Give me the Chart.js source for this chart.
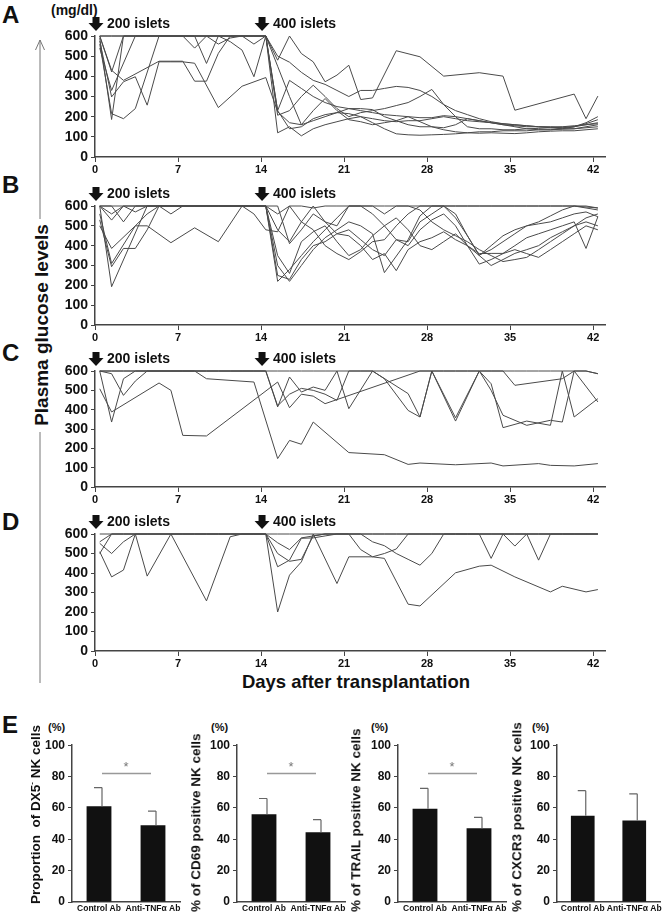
<!DOCTYPE html>
<html>
<head>
<meta charset="utf-8">
<script src="https://cdn.jsdelivr.net/npm/chart.js@4.4.0/dist/chart.umd.min.js"></script>
<style>
body { margin: 0; background: #fff; width: 672px; height: 914px; position: relative; overflow: hidden;
       font-family: "Liberation Sans", Arial, sans-serif; color: #111; }
.box { position: absolute; }
.lbl { position: absolute; font-weight: bold; white-space: nowrap; line-height: 1; }
.rot { position: absolute; white-space: nowrap; line-height: 1; transform-origin: 0 0;
       transform: rotate(-90deg) translate(0, -50%); }
</style>
</head>
<body>

<svg class="box" style="left:0;top:0" width="672" height="914">
  <path d="M40 40 V219 M40 432 V683 M35.5 50 L40 40 L44.5 50" stroke="#777" fill="none" stroke-width="1"/>
</svg>

<div class="lbl" style="left:2px;top:3px;font-size:24px">A</div>
<div class="lbl" style="left:2px;top:173px;font-size:24px">B</div>
<div class="lbl" style="left:2px;top:341px;font-size:24px">C</div>
<div class="lbl" style="left:2px;top:510px;font-size:24px">D</div>
<div class="lbl" style="left:2px;top:713px;font-size:24px">E</div>
<div class="lbl" style="left:51px;top:3px;font-size:14px">(mg/dl)</div>

<div class="lbl" style="left:41px;top:325px;font-size:19px;transform:translate(-50%,-50%) rotate(-90deg)">Plasma glucose levels</div>
<div class="lbl" style="left:356px;top:682px;font-size:18.5px;transform:translate(-50%,-50%)">Days after transplantation</div>

<div class="box" style="left:50px;top:14px;width:560px;height:165px"><canvas id="chartA"></canvas></div>
<div class="box" style="left:50px;top:184px;width:560px;height:163px"><canvas id="chartB"></canvas></div>
<div class="box" style="left:50px;top:349px;width:560px;height:160px"><canvas id="chartC"></canvas></div>
<div class="box" style="left:50px;top:512px;width:560px;height:161px"><canvas id="chartD"></canvas></div>

<div class="box" style="left:42px;top:735px;width:150px;height:179px"><canvas id="chartE1"></canvas></div>
<div class="box" style="left:207px;top:735px;width:150px;height:179px"><canvas id="chartE2"></canvas></div>
<div class="box" style="left:368px;top:735px;width:150px;height:179px"><canvas id="chartE3"></canvas></div>
<div class="box" style="left:527px;top:735px;width:145px;height:179px"><canvas id="chartE4"></canvas></div>

<div class="lbl" style="left:48px;top:722px;font-size:11px">(%)</div>
<div class="lbl" style="left:211px;top:722px;font-size:11px">(%)</div>
<div class="lbl" style="left:371px;top:722px;font-size:11px">(%)</div>
<div class="lbl" style="left:532px;top:722px;font-size:11px">(%)</div>

<div class="rot" style="left:35px;top:904px;font-size:13.5px;font-weight:bold">Proportion&nbsp; of DX5<sup style="font-size:8px">-</sup> NK cells</div>
<div class="rot" style="left:196px;top:912px;font-size:13.5px;font-weight:bold">% of CD69 positive NK cells</div>
<div class="rot" style="left:356px;top:912px;font-size:13.5px;font-weight:bold">% of TRAIL positive NK cells</div>
<div class="rot" style="left:517px;top:912px;font-size:13.5px;font-weight:bold">% of CXCR3 positive NK cells</div>

<script>
// Days after transplantation and tick labels
const DAYS = [0,1,2,3,4,5,6,7,8,9,10,11,12,13,14,15,16,17,18,19,20,21,22,23,24,25,26,27,28,29,30,31,32,33,34,35,36,37,38,39,40,41,42];
const DAY_TICKS = [0, 7, 14, 21, 28, 35, 42];
const ARROW_DAYS = [0, 14];
const ARROW_LABELS = ['200 islets', '400 islets'];

// Panel A - plasma glucose (mg/dl), one array per mouse
const A1 = [600,422,600,600,600,600,600,600,600,600,600,600,600,600,600,
            480,600,513,472,373,406,455,285,293,null,527,null,497,null,401,
            null,null,418,null,401,232,null,null,null,null,312,190,302];
const A2 = [590,186,600,600,600,600,600,600,600,600,600,600,600,600,600,
            120,150,105,140,160,175,190,200,170,140,115,110,108,110,112,
            115,120,125,125,130,130,130,135,135,138,140,150,160];
const A3 = [575,298,373,398,257,472,472,472,465,null,245,null,351,null,394,
            224,170,160,230,290,230,185,175,160,170,180,200,175,150,135,
            125,120,118,120,118,116,120,125,128,130,130,135,140];
const A4 = [560,215,190,240,null,600,600,600,600,600,600,600,600,600,600,
            207,230,300,356,300,240,200,220,230,240,255,270,300,335,260,
            200,150,140,140,135,135,140,142,145,148,150,165,185];
const A5 = [600,430,380,null,null,475,475,475,376,376,514,600,600,600,600,
            450,300,160,180,200,220,240,240,235,200,180,160,150,150,145,
            160,190,180,170,160,150,140,135,135,140,150,170,200];
const A6 = [540,330,null,600,600,600,600,600,540,600,560,590,600,560,600,
            230,140,150,190,210,220,215,200,190,180,175,180,180,190,200,
            190,180,175,170,165,160,155,150,148,145,150,160,170];
const A7 = [600,600,600,600,600,600,600,600,600,464,600,572,530,398,600,
            230,380,340,300,270,250,240,230,220,210,205,200,195,195,205,
            200,190,180,170,160,155,150,150,150,150,155,160,165];
const A8 = [600,600,600,600,600,600,600,600,600,600,600,600,600,600,600,
            500,470,420,380,360,330,300,330,330,340,350,345,330,300,260,
            230,210,190,175,165,160,155,150,145,140,140,145,150];

// Panel B
const B1 = [600,529,600,600,600,600,600,600,600,600,600,600,600,600,600,
            560,600,600,590,600,600,600,600,600,600,600,600,600,600,600,
            600,600,600,600,600,600,600,600,600,600,600,595,590];
const B2 = [600,193,null,null,600,600,600,600,600,600,600,600,600,600,600,
            300,220,300,380,440,480,520,500,460,264,null,430,550,600,600,
            600,600,600,600,600,600,600,600,600,600,600,590,580];
const B3 = [530,294,386,386,480,600,600,600,600,600,600,600,600,600,600,
            250,230,330,400,420,460,480,430,380,350,430,420,520,560,600,
            560,450,353,380,420,460,500,520,550,580,600,600,590];
const B4 = [500,386,null,500,500,null,415,null,490,null,420,null,600,600,600,
            480,420,520,600,520,460,450,400,330,360,274,380,420,440,470,
            430,400,307,330,360,380,360,341,380,420,460,500,480];
const B5 = [600,600,520,600,600,600,560,600,600,600,600,600,600,600,600,
            600,410,480,560,520,500,600,600,560,500,430,400,480,530,560,
            500,400,350,400,450,480,500,510,520,540,560,570,546];
const B6 = [560,310,null,500,560,600,600,600,600,600,600,600,600,600,600,
            350,260,420,470,500,420,350,380,450,500,540,480,400,380,420,
            460,400,360,361,361,400,440,460,480,500,520,386,546];
const B7 = [600,600,600,600,600,600,600,600,600,600,600,600,600,560,480,
            470,600,520,480,400,360,330,370,420,430,500,560,600,600,600,
            540,450,350,300,330,361,380,400,440,470,500,520,500];
const B8 = [600,560,600,570,600,600,600,600,600,600,600,600,600,600,600,
            220,280,350,420,480,540,600,600,600,560,600,600,580,520,480,
            450,420,380,350,320,330,341,380,420,460,500,540,560];

// Panel C
const C1 = [600,600,600,600,600,600,600,600,600,600,600,600,600,600,600,
            600,600,600,600,600,600,600,600,600,600,600,600,600,600,600,
            600,600,600,600,600,600,600,600,600,600,600,600,586];
const C2 = [600,600,600,600,600,600,600,600,600,560,null,null,null,543,null,
            147,241,221,336,null,null,178,null,null,167,null,117,124,null,null,
            115,null,null,124,109,null,null,121,112,null,109,null,121];
const C3 = [508,388,null,null,null,538,500,267,null,264,null,null,null,null,null,
            543,410,480,470,431,null,null,null,null,null,null,null,600,600,600,
            600,600,600,600,600,526,null,null,null,560,600,600,586];
const C4 = [600,586,474,548,600,600,600,600,600,600,600,600,600,600,600,
            414,569,491,517,500,600,405,null,600,null,null,483,362,600,null,
            341,null,600,534,307,null,341,null,319,600,362,null,457];
const C5 = [600,336,560,600,600,600,600,600,600,600,600,600,600,600,600,
            420,480,510,500,480,448,600,null,600,560,null,396,362,600,null,
            358,null,600,500,371,null,319,null,345,336,600,null,440];

// Panel D
const D1 = [509,380,415,600,384,null,600,null,null,257,null,586,600,600,600,
            200,389,457,600,null,346,483,null,483,475,null,240,231,null,null,
            401,null,435,440,null,380,null,null,303,332,null,303,315];
const D2 = [560,600,600,600,600,600,600,600,600,600,600,600,600,600,600,
            555,520,580,590,600,600,600,520,483,500,523,600,600,600,600,
            600,600,600,475,600,600,600,466,600,600,600,600,600];
const D3 = [552,500,560,600,600,600,600,600,600,600,600,600,600,600,600,
            432,466,578,580,590,600,600,600,560,540,500,470,440,500,600,
            600,600,600,600,600,538,600,600,600,600,600,600,600];
const D4 = [500,600,600,600,600,600,600,600,600,600,600,600,600,600,600,
            500,460,470,590,600,600,600,600,600,600,600,600,600,600,600,
            600,600,600,600,600,600,600,600,600,600,600,600,600];
const D5 = [600,600,600,600,600,600,600,600,600,600,600,600,600,600,600,
            600,600,600,600,600,600,600,600,600,600,600,600,600,600,600,
            600,600,600,600,600,600,600,600,600,600,600,600,600];

// Panel E - NK cell markers (%)
const E_GROUPS = ['Control Ab', 'Anti-TNF\u03b1 Ab'];
const E_CONTROL_MEAN = [61, 56, 59.5, 55];
const E_CONTROL_SD = [12, 10, 13, 16];
const E_ANTI_MEAN = [49, 44.5, 47, 52];
const E_ANTI_SD = [9, 8, 7, 17];
const E_SIGNIFICANT = [true, true, true, false];

const FONT = '"Liberation Sans", Arial, sans-serif';
const POINT_SHIFT = 0.4;   // points sit a little right of the day tick
Chart.defaults.font.family = FONT;
Chart.defaults.color = '#111';

const isletArrows = {
    id: 'isletArrows',
    afterDraw(chart) {
        const { ctx, chartArea, scales } = chart;
        ctx.save();
        ARROW_DAYS.forEach((d, i) => {
            const x = scales.x.getPixelForValue(d) + 1;
            const t = chartArea.top - 19;
            ctx.fillStyle = '#111';
            ctx.fillRect(x - 3.5, t, 7, 7);
            ctx.beginPath();
            ctx.moveTo(x - 7.5, t + 6);
            ctx.lineTo(x + 7.5, t + 6);
            ctx.lineTo(x, t + 14);
            ctx.closePath();
            ctx.fill();
            ctx.font = 'bold 14px ' + FONT;
            ctx.textBaseline = 'middle';
            ctx.fillText(ARROW_LABELS[i], x + 11, t + 7);
        });
        ctx.restore();
    }
};

function glucoseChart(id, series) {
    const ctx = document.getElementById(id).getContext('2d');
    new Chart(ctx, {
        type: 'line',
        data: {
            datasets: series.map(s => ({
                data: DAYS.map((d, i) => ({ x: d + POINT_SHIFT, y: s[i] })).filter(p => p.y !== null),
                borderColor: '#4a4a4a',
                borderWidth: 1,
                pointRadius: 0,
                tension: 0,
                clip: 4
            }))
        },
        options: {
            responsive: true,
            maintainAspectRatio: false,
            animation: false,
            layout: { padding: { top: 22, right: 5, left: 0, bottom: 0 } },
            plugins: { legend: { display: false }, tooltip: { enabled: false } },
            scales: {
                x: {
                    type: 'linear',
                    min: 0,
                    max: 43,
                    afterBuildTicks: s => { s.ticks = DAY_TICKS.map(v => ({ value: v })); },
                    afterFit: s => { s.height = 22; },
                    grid: { drawOnChartArea: false, tickLength: 5, color: '#444' },
                    border: { color: '#444', width: 1.5 },
                    ticks: { font: { size: 11, weight: 'bold' }, padding: 1, maxRotation: 0, autoSkip: false }
                },
                y: {
                    min: 0,
                    max: 600,
                    afterFit: s => { s.width = 45; },
                    grid: { drawOnChartArea: false, tickLength: 4, color: '#444' },
                    border: { color: '#444', width: 1.5 },
                    ticks: { stepSize: 100, autoSkip: false, font: { size: 14, weight: 'bold' }, padding: 3 }
                }
            }
        },
        plugins: [isletArrows]
    });
}

const errorBars = {
    id: 'errorBars',
    afterDatasetsDraw(chart, args, opts) {
        const { ctx, scales } = chart;
        const bars = chart.getDatasetMeta(0).data;
        ctx.save();
        ctx.strokeStyle = '#666';
        ctx.lineWidth = 1.2;
        bars.forEach((b, i) => {
            const x = b.x + 3;
            const top = scales.y.getPixelForValue(opts.upper[i]);
            ctx.beginPath();
            ctx.moveTo(x, b.y);
            ctx.lineTo(x, top);
            ctx.moveTo(x - 8, top);
            ctx.lineTo(x, top);
            ctx.stroke();
        });
        if (opts.sig) {
            const y = scales.y.getPixelForValue(82);
            ctx.strokeStyle = '#999';
            ctx.lineWidth = 1.5;
            ctx.beginPath();
            ctx.moveTo(bars[0].x + 3, y);
            ctx.lineTo(bars[1].x - 2, y);
            ctx.stroke();
            ctx.fillStyle = '#777';
            ctx.font = '13px ' + FONT;
            ctx.textAlign = 'center';
            ctx.fillText('*', (bars[0].x + bars[1].x) / 2, y - 2);
        }
        ctx.restore();
    }
};

function markerChart(id, k) {
    const ctx = document.getElementById(id).getContext('2d');
    new Chart(ctx, {
        type: 'bar',
        data: {
            labels: E_GROUPS,
            datasets: [{
                data: [E_CONTROL_MEAN[k], E_ANTI_MEAN[k]],
                backgroundColor: '#111',
                barPercentage: 0.46,
                categoryPercentage: 1
            }]
        },
        options: {
            responsive: true,
            maintainAspectRatio: false,
            animation: false,
            layout: { padding: { top: 10, right: 12, left: 0, bottom: 0 } },
            plugins: {
                legend: { display: false },
                tooltip: { enabled: false },
                errorBars: {
                    upper: [E_CONTROL_MEAN[k] + E_CONTROL_SD[k], E_ANTI_MEAN[k] + E_ANTI_SD[k]],
                    sig: E_SIGNIFICANT[k]
                }
            },
            scales: {
                x: {
                    afterFit: s => { s.height = 12; },
                    grid: { display: false, drawTicks: false },
                    border: { color: '#444', width: 1.5 },
                    ticks: { font: { size: 8.5, weight: 'bold' }, padding: 2, maxRotation: 0, autoSkip: false }
                },
                y: {
                    min: 0,
                    max: 100,
                    afterFit: s => { s.width = 30; },
                    grid: { drawOnChartArea: false, tickLength: 4, color: '#444' },
                    border: { color: '#444', width: 1.5 },
                    ticks: { stepSize: 20, autoSkip: false, font: { size: 12, weight: 'bold' }, padding: 3 }
                }
            }
        },
        plugins: [errorBars]
    });
}

glucoseChart('chartA', [A1, A2, A3, A4, A5, A6, A7, A8]);
glucoseChart('chartB', [B1, B2, B3, B4, B5, B6, B7, B8]);
glucoseChart('chartC', [C1, C2, C3, C4, C5]);
glucoseChart('chartD', [D1, D2, D3, D4, D5]);
markerChart('chartE1', 0);
markerChart('chartE2', 1);
markerChart('chartE3', 2);
markerChart('chartE4', 3);
</script>
</body>
</html>
